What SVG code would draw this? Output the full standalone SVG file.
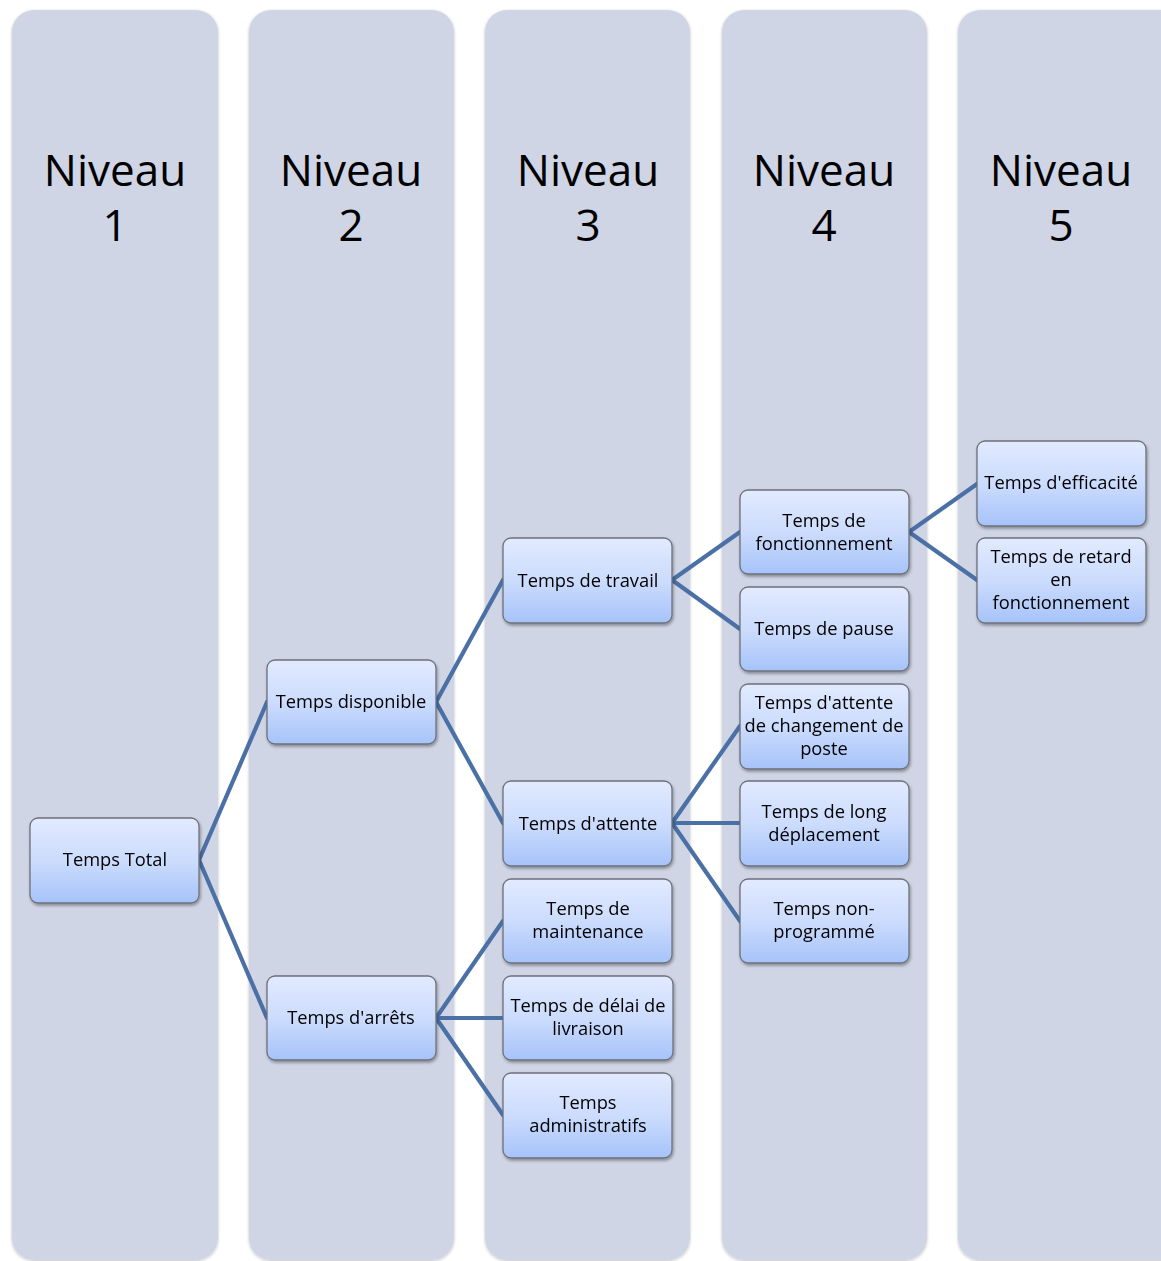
<svg xmlns="http://www.w3.org/2000/svg" width="1161" height="1261" viewBox="0 0 1161 1261">
<style>
.col{fill:#CFD5E5;}
.hdr{font-family:"Open Sans","Liberation Sans",sans-serif;font-size:44px;fill:#000;text-anchor:middle;}
.box{fill:url(#g);stroke:#6E7079;stroke-width:1.3;}
.t{font-family:"Open Sans","Liberation Sans",sans-serif;font-size:18.3px;fill:#000;text-anchor:middle;}
.c{stroke:#4A70A5;stroke-width:4.2;fill:none;stroke-linecap:round;}
</style>
<defs>
<linearGradient id="g" x1="0" y1="0" x2="0" y2="1">
<stop offset="0" stop-color="#E1EAFF"/>
<stop offset="0.5" stop-color="#CCDCFD"/>
<stop offset="1" stop-color="#A6C3F9"/>
</linearGradient>
<filter id="sh" x="-10%" y="-10%" width="130%" height="130%">
<feDropShadow dx="1" dy="2" stdDeviation="1.5" flood-color="#000" flood-opacity="0.35"/>
</filter>
<filter id="csh" x="-5%" y="-2%" width="110%" height="104%">
<feDropShadow dx="0" dy="1" stdDeviation="1.5" flood-color="#000" flood-opacity="0.25"/>
</filter>
</defs>
<g id="columns" filter="url(#csh)">
<rect class="col" x="12" y="10" width="206" height="1250" rx="22"/>
<rect class="col" x="249" y="10" width="205" height="1250" rx="22"/>
<rect class="col" x="485" y="10" width="205" height="1250" rx="22"/>
<rect class="col" x="722" y="10" width="205" height="1250" rx="22"/>
<rect class="col" x="958" y="10" width="225" height="1250" rx="22"/>
</g>
<g id="headers">
<text class="hdr" x="115" y="186">Niveau</text><text class="hdr" x="115" y="241">1</text>
<text class="hdr" x="351" y="186">Niveau</text><text class="hdr" x="351" y="241">2</text>
<text class="hdr" x="588" y="186">Niveau</text><text class="hdr" x="588" y="241">3</text>
<text class="hdr" x="824" y="186">Niveau</text><text class="hdr" x="824" y="241">4</text>
<text class="hdr" x="1061" y="186">Niveau</text><text class="hdr" x="1061" y="241">5</text>
</g>
<g id="connectors">
<path class="c" d="M199 860 L267 702 M199 860 L267 1018"/>
<path class="c" d="M436 702 L503 580 M436 702 L503 823"/>
<path class="c" d="M436 1018 L503 921 M436 1018 L503 1018 M436 1018 L503 1115"/>
<path class="c" d="M672 580 L740 532 M672 580 L740 629"/>
<path class="c" d="M672 823 L740 726 M672 823 L740 823 M672 823 L740 921"/>
<path class="c" d="M909 532 L977 484 M909 532 L977 580"/>
</g>
<g id="n1" filter="url(#sh)"><rect class="box" x="30" y="818" width="169" height="85" rx="8"/><text class="t" x="115" y="866">Temps Total</text></g>
<g id="n2" filter="url(#sh)"><rect class="box" x="267" y="660" width="169" height="84" rx="8"/><text class="t" x="351" y="708">Temps disponible</text></g>
<g id="n3" filter="url(#sh)"><rect class="box" x="267" y="976" width="169" height="84" rx="8"/><text class="t" x="351" y="1024">Temps d'arrêts</text></g>
<g id="n4" filter="url(#sh)"><rect class="box" x="503" y="538" width="169" height="85" rx="8"/><text class="t" x="588" y="587">Temps de travail</text></g>
<g id="n5" filter="url(#sh)"><rect class="box" x="503" y="781" width="169" height="85" rx="8"/><text class="t" x="588" y="830">Temps d'attente</text></g>
<g id="n6" filter="url(#sh)"><rect class="box" x="503" y="879" width="169" height="84" rx="8"/><text class="t" x="588" y="915">Temps de</text><text class="t" x="588" y="938">maintenance</text></g>
<g id="n7" filter="url(#sh)"><rect class="box" x="503" y="976" width="170" height="84" rx="8"/><text class="t" x="588" y="1012">Temps de délai de</text><text class="t" x="588" y="1035">livraison</text></g>
<g id="n8" filter="url(#sh)"><rect class="box" x="503" y="1073" width="169" height="85" rx="8"/><text class="t" x="588" y="1109">Temps</text><text class="t" x="588" y="1132">administratifs</text></g>
<g id="n9" filter="url(#sh)"><rect class="box" x="740" y="490" width="169" height="84" rx="8"/><text class="t" x="824" y="527">Temps de</text><text class="t" x="824" y="550">fonctionnement</text></g>
<g id="n10" filter="url(#sh)"><rect class="box" x="740" y="587" width="169" height="84" rx="8"/><text class="t" x="824" y="635">Temps de pause</text></g>
<g id="n11" filter="url(#sh)"><rect class="box" x="740" y="684" width="169" height="85" rx="8"/><text class="t" x="824" y="709">Temps d'attente</text><text class="t" x="824" y="732">de changement de</text><text class="t" x="824" y="755">poste</text></g>
<g id="n12" filter="url(#sh)"><rect class="box" x="740" y="781" width="169" height="85" rx="8"/><text class="t" x="824" y="818">Temps de long</text><text class="t" x="824" y="841">déplacement</text></g>
<g id="n13" filter="url(#sh)"><rect class="box" x="740" y="879" width="169" height="84" rx="8"/><text class="t" x="824" y="915">Temps non-</text><text class="t" x="824" y="938">programmé</text></g>
<g id="n14" filter="url(#sh)"><rect class="box" x="977" y="441" width="169" height="85" rx="8"/><text class="t" x="1061" y="489">Temps d'efficacité</text></g>
<g id="n15" filter="url(#sh)"><rect class="box" x="977" y="538" width="169" height="85" rx="8"/><text class="t" x="1061" y="563">Temps de retard</text><text class="t" x="1061" y="586">en</text><text class="t" x="1061" y="609">fonctionnement</text></g>
</svg>
